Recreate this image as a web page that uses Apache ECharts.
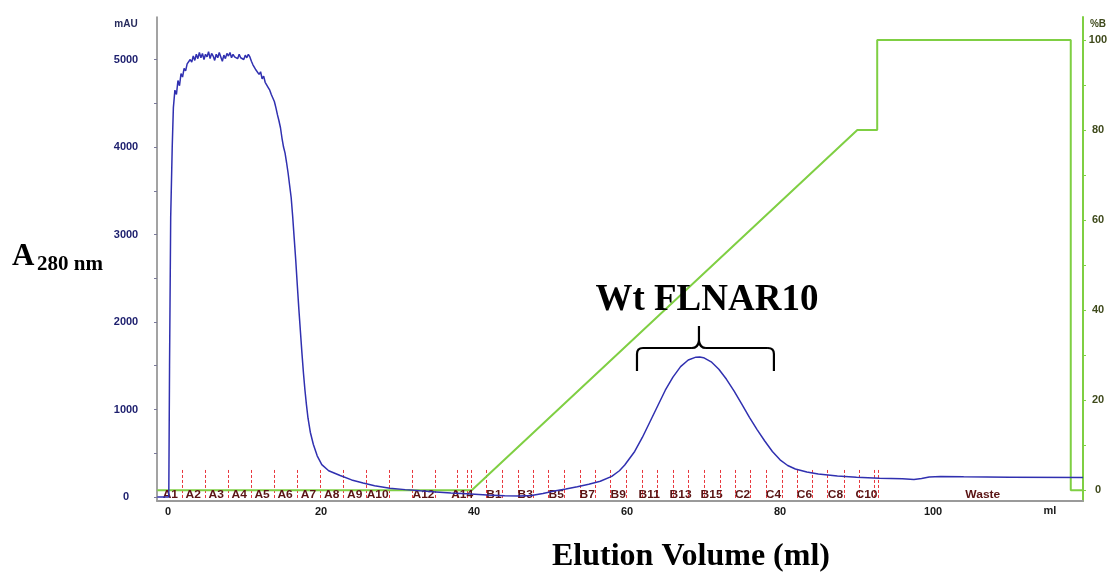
<!DOCTYPE html>
<html>
<head>
<meta charset="utf-8">
<script src="https://cdn.jsdelivr.net/npm/echarts@6/dist/echarts.min.js"></script>
<style>
html, body { margin: 0; padding: 0; background: #ffffff; }
#chart { width: 1111px; height: 574px; }
</style>
</head>
<body>
<div id="chart"></div>
<script>
// UV absorbance trace (A280, mAU) against elution volume (ml)
const uvVolume = [
  -1.4, 0.1, 0.2, 0.35, 0.55, 0.7, 0.9, 1.1, 1.3, 1.5, 1.7, 1.9, 2.1, 2.3, 2.5, 2.7, 2.9,
  3.1, 3.3, 3.5, 3.7, 3.9, 4.1, 4.3, 4.5, 4.7, 4.9, 5.1, 5.3, 5.5, 5.7, 5.9,
  6.1, 6.3, 6.5, 6.7, 6.9, 7.1, 7.3, 7.5, 7.7, 7.9, 8.1, 8.3, 8.5, 8.7, 8.9,
  9.1, 9.3, 9.5, 9.7, 9.9, 10.1, 10.3, 10.5, 10.7, 10.9, 11.1, 11.3, 11.5, 11.7, 11.9,
  12.1, 12.3, 12.5, 12.7, 12.9, 13.1, 13.3, 13.5, 13.7, 13.9, 14.1, 14.3, 14.5, 14.7, 14.9,
  15.1, 15.3, 15.5, 15.7, 15.9, 16.1, 16.3, 16.5, 16.7, 16.9, 17.1, 17.3, 17.5, 17.7, 17.9,
  18.1, 18.3, 18.6, 19.0, 19.5, 20.1, 21.0, 22.5, 24.0, 25.5, 27.0, 29.0, 31.0, 33.0, 35.0, 37.0,
  39.0, 41.7, 44.0, 46.0, 47.5, 49.0, 50.5, 52.0, 53.5, 55.0, 56.5, 58.0, 59.0, 59.7,
  61.0, 62.0, 63.0, 64.0, 65.0, 66.0, 67.0, 68.0, 69.0, 69.5, 70.0, 71.0, 72.0, 73.0,
  74.0, 75.0, 76.0, 77.0, 78.0, 79.0, 80.0, 81.0, 82.0, 83.5, 85.0, 87.5, 90.0, 93.0,
  96.0, 97.5, 98.5, 99.5, 101.0, 104.0, 110.0, 119.6
];
const uvAbsorbance = [
  0, 0, 1500, 3200, 4000, 4450, 4650, 4600, 4760, 4700, 4840, 4800, 4900, 4870, 4950, 4930, 5000,
  4970, 5040, 4990, 5060, 5010, 5080, 5020, 5070, 5000, 5060, 5030, 5090, 5010, 5070, 5040,
  4990, 5060, 5020, 5080, 5030, 4980, 5050, 5010, 5070, 5040, 5080, 5020, 5060, 5030, 5050,
  5010, 5060, 5020, 5040, 5000, 5050, 5020, 5060, 5030, 4980, 4940, 4960, 4880, 4900, 4830,
  4860, 4780, 4810, 4740, 4760, 4680, 4650, 4600, 4560, 4520, 4450, 4370, 4300, 4220, 4100,
  4000, 3930, 3820, 3700, 3560, 3420, 3200, 2950, 2700, 2420, 2150, 1900, 1650, 1420, 1220,
  1050, 900, 740, 600, 470, 370, 300, 245, 195, 160, 128, 100, 84, 70, 58, 46,
  36, 23, 15, 10, 18, 40, 68, 92, 118, 145, 180, 235, 300, 365,
  520, 680, 860, 1040, 1220, 1370, 1490, 1565, 1598, 1600, 1592, 1545, 1460, 1345,
  1210, 1060, 910, 770, 640, 520, 425, 360, 320, 285, 262, 240, 226, 215,
  207, 200, 210, 228, 234, 230, 226, 222
];

// Buffer B gradient (%B)
const gradVolume   = [-1.4, 39.7, 90.1, 92.7, 92.7, 118.0, 118.0, 119.6];
const gradPercentB = [0, 0, 80, 80, 100, 100, 0, 0];

// Fraction collector: boundaries (ml) and the fraction names printed along the baseline
const fracTicks = [
  1.8, 4.8, 7.8, 10.8, 13.8, 16.8, 19.9, 22.9, 25.9, 28.9, 31.9, 34.9, 37.8, 39.1, 39.6,
  41.6, 43.6, 45.7, 47.7, 49.7, 51.8, 53.8, 55.8, 57.8, 59.9, 61.9, 63.9, 66.0, 68.0, 70.0,
  72.1, 74.1, 76.1, 78.1, 80.2, 82.2, 84.2, 86.2, 88.3, 90.3, 92.3, 92.8
];
const fracLabelNames = [
  'A1', 'A2', 'A3', 'A4', 'A5', 'A6', 'A7', 'A8', 'A9', 'A10', 'A12', 'A14',
  'B1', 'B3', 'B5', 'B7', 'B9', 'B11', 'B13', 'B15', 'C2', 'C4', 'C6', 'C8', 'C10', 'Waste'
];
const fracLabelCentres = [
  0.3, 3.3, 6.3, 9.3, 12.3, 15.3, 18.35, 21.4, 24.4, 27.4, 33.4, 38.45,
  42.6, 46.7, 50.75, 54.8, 58.85, 62.9, 67.0, 71.05, 75.1, 79.15, 83.2, 87.25, 91.3, 106.5
];

// Axis tick and label values
const volumeLabels = [0, 20, 40, 60, 80, 100];
const mAULabels = [0, 1000, 2000, 3000, 4000, 5000];
const mAUTicks = [0, 500, 1000, 1500, 2000, 2500, 3000, 3500, 4000, 4500, 5000];
const percentBLabels = [0, 20, 40, 60, 80, 100];
const percentBTicks = [0, 10, 20, 30, 40, 50, 60, 70, 80, 90, 100];

const SANS = '"Liberation Sans", Arial, sans-serif';
const SERIF = '"Liberation Serif", "Times New Roman", serif';
const GREEN = '#7fcf43';
const BLUE = '#3030b0';
const plain = v => String(v);

const chart = echarts.init(document.getElementById('chart'), null, { renderer: 'canvas' });

chart.setOption({
  animation: false,
  backgroundColor: '#ffffff',
  grid: { left: 157, right: 28, top: 17, bottom: 73, containLabel: false },
  xAxis: {
    type: 'value',
    min: -1.44,
    max: 119.6,
    axisLine: { show: true, onZero: false, lineStyle: { color: '#9a9a9a', width: 2 } },
    axisTick: { show: false },
    splitLine: { show: false },
    axisLabel: {
      customValues: volumeLabels,
      formatter: plain,
      margin: 5,
      color: '#1a1a1a',
      fontFamily: SANS,
      fontWeight: 'bold',
      fontSize: 11
    }
  },
  yAxis: [
    {
      type: 'value',
      position: 'left',
      min: -46,
      max: 5486,
      axisLine: { show: true, onZero: false, lineStyle: { color: '#858585', width: 1.5 } },
      axisTick: { show: true, customValues: mAUTicks, length: 3, lineStyle: { color: '#7a7a9a' } },
      splitLine: { show: false },
      axisLabel: {
        customValues: mAULabels,
        formatter: plain,
        align: 'center',
        margin: 31,
        color: '#1d1f6e',
        fontFamily: SANS,
        fontWeight: 'bold',
        fontSize: 11
      }
    },
    {
      type: 'value',
      position: 'right',
      min: -2.4,
      max: 105.1,
      axisLine: { show: true, onZero: false, lineStyle: { color: GREEN, width: 2 } },
      axisTick: { show: true, customValues: percentBTicks, length: 3, lineStyle: { color: GREEN } },
      splitLine: { show: false },
      axisLabel: {
        customValues: percentBLabels,
        formatter: plain,
        align: 'center',
        margin: 15,
        color: '#3f4a1c',
        fontFamily: SANS,
        fontWeight: 'bold',
        fontSize: 11
      }
    }
  ],
  series: [
    {
      name: 'Fraction marks',
      type: 'custom',
      xAxisIndex: 0,
      yAxisIndex: 0,
      silent: true,
      z: 3,
      data: fracTicks.map(v => [v, 0]),
      renderItem: function (params, api) {
        const p = api.coord([api.value(0), 0]);
        const x = Math.round(p[0]) + 0.5;
        return {
          type: 'line',
          shape: { x1: x, y1: p[1] - 27, x2: x, y2: p[1] + 2 },
          style: { stroke: '#e8383e', fill: null, lineWidth: 1, lineDash: [3, 2] }
        };
      }
    },
    {
      name: '%B',
      type: 'line',
      xAxisIndex: 0,
      yAxisIndex: 1,
      data: gradVolume.map((v, i) => [v, gradPercentB[i]]),
      showSymbol: false,
      lineStyle: { color: GREEN, width: 2 },
      z: 4
    },
    {
      name: 'Fraction names',
      type: 'custom',
      xAxisIndex: 0,
      yAxisIndex: 0,
      silent: true,
      z: 5,
      data: fracLabelCentres.map(v => [v, 0]),
      renderItem: function (params, api) {
        const p = api.coord([api.value(0), 0]);
        return {
          type: 'text',
          x: p[0],
          y: p[1] - 2,
          scaleX: 1.2,
          style: {
            text: fracLabelNames[params.dataIndex],
            fill: '#5a1414',
            font: 'bold 10px ' + SANS,
            align: 'center',
            verticalAlign: 'middle'
          }
        };
      }
    },
    {
      name: 'A280',
      type: 'line',
      xAxisIndex: 0,
      yAxisIndex: 0,
      data: uvVolume.map((v, i) => [v, uvAbsorbance[i]]),
      showSymbol: false,
      lineStyle: { color: BLUE, width: 1.5 },
      z: 6
    }
  ]
});

// Annotations placed from data coordinates
const px = v => chart.convertToPixel({ xAxisIndex: 0 }, v);
const braceL = px(61.3), braceM = px(69.4), braceR = px(79.2);
const braceTop = 348, braceEnd = 371, cuspTop = 326;
const braceStyle = { stroke: '#000000', lineWidth: 2.2, fill: null };

const braceParts = [
  { type: 'line', shape: { x1: braceL, y1: braceEnd, x2: braceL, y2: braceTop + 6 } },
  { type: 'bezierCurve', shape: { x1: braceL, y1: braceTop + 6, cpx1: braceL, cpy1: braceTop, x2: braceL + 6, y2: braceTop } },
  { type: 'line', shape: { x1: braceL + 6, y1: braceTop, x2: braceM - 7, y2: braceTop } },
  { type: 'bezierCurve', shape: { x1: braceM - 7, y1: braceTop, cpx1: braceM - 1, cpy1: braceTop, x2: braceM, y2: braceTop - 7 } },
  { type: 'line', shape: { x1: braceM, y1: braceTop - 7, x2: braceM, y2: cuspTop } },
  { type: 'bezierCurve', shape: { x1: braceM, y1: braceTop - 7, cpx1: braceM + 1, cpy1: braceTop, x2: braceM + 7, y2: braceTop } },
  { type: 'line', shape: { x1: braceM + 7, y1: braceTop, x2: braceR - 6, y2: braceTop } },
  { type: 'bezierCurve', shape: { x1: braceR - 6, y1: braceTop, cpx1: braceR, cpy1: braceTop, x2: braceR, y2: braceTop + 6 } },
  { type: 'line', shape: { x1: braceR, y1: braceTop + 6, x2: braceR, y2: braceEnd } }
].map(p => Object.assign(p, { style: braceStyle, z: 10, silent: true }));

chart.setOption({
  graphic: braceParts.concat([
    {
      type: 'text', x: braceM + 8, y: 300, z: 10,
      style: { text: 'Wt FLNAR10', font: 'bold 37px ' + SERIF, fill: '#000000', align: 'center', verticalAlign: 'middle' }
    },
    {
      type: 'text', x: 12, y: 257, z: 10,
      style: { text: 'A', font: 'bold 31px ' + SERIF, fill: '#000000', align: 'left', verticalAlign: 'middle' }
    },
    {
      type: 'text', x: 37, y: 265, z: 10,
      style: { text: '280 nm', font: 'bold 21px ' + SERIF, fill: '#000000', align: 'left', verticalAlign: 'middle' }
    },
    {
      type: 'text', x: 691, y: 557, z: 10,
      style: { text: 'Elution Volume (ml)', font: 'bold 32px ' + SERIF, fill: '#000000', align: 'center', verticalAlign: 'middle' }
    },
    {
      type: 'text', x: 126, y: 24, z: 10,
      style: { text: 'mAU', font: 'bold 10px ' + SANS, fill: '#262a5c', align: 'center', verticalAlign: 'middle' }
    },
    {
      type: 'text', x: 1098, y: 24, z: 10,
      style: { text: '%B', font: 'bold 10px ' + SANS, fill: '#3f4a1c', align: 'center', verticalAlign: 'middle' }
    },
    {
      type: 'text', x: 1050, y: 511, z: 10,
      style: { text: 'ml', font: 'bold 11px ' + SANS, fill: '#1a1a1a', align: 'center', verticalAlign: 'middle' }
    }
  ])
});
</script>
</body>
</html>
